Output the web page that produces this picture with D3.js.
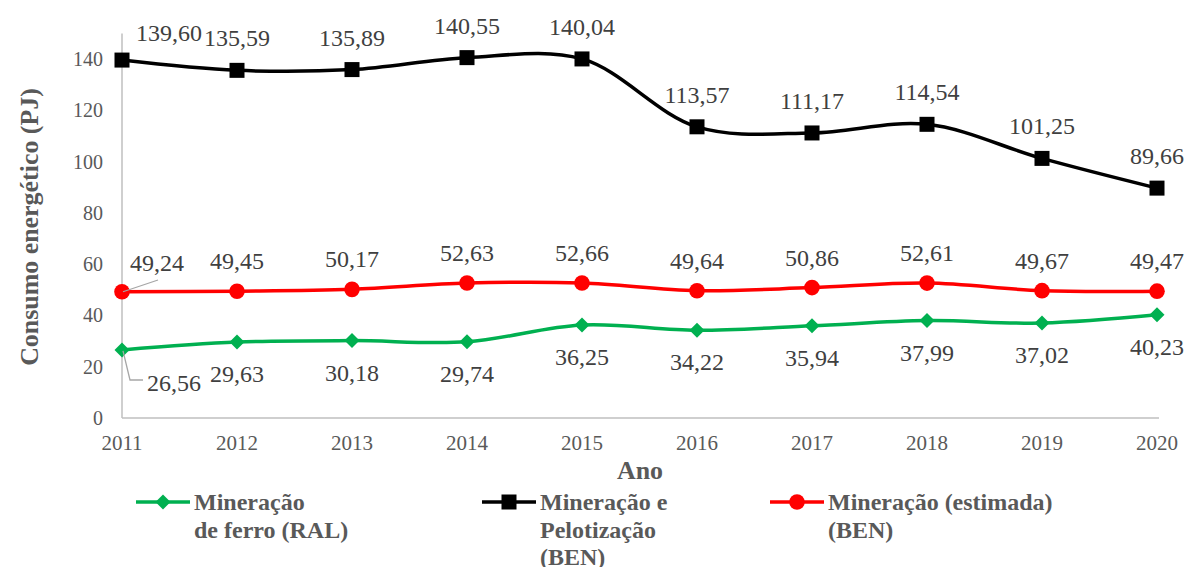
<!DOCTYPE html>
<html><head><meta charset="utf-8">
<script src="https://cdn.jsdelivr.net/npm/d3@7"></script>
<style>body{margin:0;background:#fff}svg{display:block}</style>
</head><body><svg id="c" width="1186" height="567"></svg>
<script>
const years = [2011,2012,2013,2014,2015,2016,2017,2018,2019,2020];
const ferroRAL = [26.56,29.63,30.18,29.74,36.25,34.22,35.94,37.99,37.02,40.23];
const pelotizacaoBEN = [139.60,135.59,135.89,140.55,140.04,113.57,111.17,114.54,101.25,89.66];
const estimadaBEN = [49.24,49.45,50.17,52.63,52.66,49.64,50.86,52.61,49.67,49.47];
const yTicks = [0,20,40,60,80,100,120,140];
const legendNames = [["Mineração","de ferro (RAL)"],["Mineração e","Pelotização","(BEN)"],["Mineração (estimada)","(BEN)"]];
const yTitle = "Consumo energético (PJ)";
const xTitle = "Ano";

const FONT = "Liberation Serif";
const svg = d3.select("#c");
const x = d3.scalePoint().domain(years).range([122,1157]);
const y = d3.scaleLinear().domain([0,150]).range([418,33.4]);
const fmt = v => d3.format(".2f")(v).replace(".", ",");
const curve = d3.curveCatmullRom.alpha(0.5);

// axes lines
svg.append("line").attr("x1",122).attr("x2",122).attr("y1",y(150)).attr("y2",y(0))
  .attr("stroke","#BFBFBF").attr("stroke-width",1.5);
svg.append("line").attr("x1",122).attr("x2",1159).attr("y1",y(0)).attr("y2",y(0))
  .attr("stroke","#BFBFBF").attr("stroke-width",1.5);

// y ticks
svg.append("g").selectAll("text").data(yTicks).join("text")
  .attr("x",103).attr("y",d=>y(d)).attr("text-anchor","end").attr("dominant-baseline","central")
  .attr("font-family",FONT).attr("font-size",20).attr("fill","#595959").text(d=>d);
// x ticks
svg.append("g").selectAll("text").data(years).join("text")
  .attr("x",d=>x(d)).attr("y",443).attr("text-anchor","middle").attr("dominant-baseline","central")
  .attr("font-family",FONT).attr("font-size",21).attr("fill","#595959").text(d=>d);

// titles (24px scaled to ~26px)
svg.append("text").attr("transform","translate(29,227) rotate(-90) scale(1.08)").attr("text-anchor","middle")
  .attr("dominant-baseline","central").attr("font-family",FONT).attr("font-size",24).attr("font-weight","bold")
  .attr("fill","#595959").text(yTitle);
svg.append("text").attr("transform","translate(640,470) scale(1.08)").attr("text-anchor","middle").attr("dominant-baseline","central")
  .attr("font-family",FONT).attr("font-size",24).attr("font-weight","bold").attr("fill","#595959").text(xTitle);

const series = [
  {vals: ferroRAL, color:"#00B050", marker:"diamond", dy: 32},
  {vals: pelotizacaoBEN, color:"#000000", marker:"square", dy: -32},
  {vals: estimadaBEN, color:"#FF0000", marker:"circle", dy: -30}
];

function drawMarker(g, type, cx, cy, color){
  if(type==="square"){
    g.append("rect").attr("x",cx-7.5).attr("y",cy-7.5).attr("width",15).attr("height",15).attr("fill",color);
  } else if(type==="circle"){
    g.append("circle").attr("cx",cx).attr("cy",cy).attr("r",7.8).attr("fill",color);
  } else {
    const h=7.5;
    g.append("path").attr("d",`M${cx},${cy-h}L${cx+h},${cy}L${cx},${cy+h}L${cx-h},${cy}Z`).attr("fill",color);
  }
}

const line = d3.line().x((d,i)=>x(years[i])).y(d=>y(d)).curve(curve);
series.forEach(s=>{
  svg.append("path").attr("d",line(s.vals)).attr("fill","none").attr("stroke",s.color).attr("stroke-width",3.5);
});
series.forEach(s=>{
  const g = svg.append("g");
  s.vals.forEach((v,i)=>drawMarker(g,s.marker,x(years[i]),y(v),s.color));
});

// leader lines for the first points
svg.append("path").attr("d",`M${x(2011)+1},${y(estimadaBEN[0])}L158,280`).attr("stroke","#A6A6A6").attr("stroke-width",1.3).attr("fill","none");
svg.append("path").attr("d",`M${x(2011)+1},${y(ferroRAL[0])+1}L130,380L143,380`).attr("stroke","#A6A6A6").attr("stroke-width",1.3).attr("fill","none");

// data labels
series.forEach(s=>{
  svg.append("g").selectAll("text").data(s.vals).join("text")
    .attr("x",(d,i)=>x(years[i]) + (i===0 ? (s.marker==="square"?47:(s.marker==="circle"?35:52)) : 0))
    .attr("y",(d,i)=>y(d) + (i===0 && s.marker==="square" ? -27 : (i===0 && s.marker==="circle" ? -29 : (i===0 ? 33 : s.dy))))
    .attr("text-anchor","middle").attr("dominant-baseline","central")
    .attr("font-family",FONT).attr("font-size",24).attr("fill","#404040").text(d=>fmt(d));
});

// legend
const legendX = [136, 482, 770];
legendNames.forEach((names,k)=>{
  const s = series[k];
  const lx = legendX[k], ly = 502;
  svg.append("line").attr("x1",lx).attr("x2",lx+54).attr("y1",ly).attr("y2",ly).attr("stroke",s.color).attr("stroke-width",3.5);
  drawMarker(svg, s.marker, lx+27, ly, s.color);
  const t = svg.append("text").attr("font-family",FONT).attr("font-size",24).attr("font-weight","bold").attr("fill","#595959");
  names.forEach((n,j)=>{
    t.append("tspan").attr("x",lx+58).attr("y",ly+j*27.5).attr("dominant-baseline","central").text(n);
  });
});
</script>
</body></html>
